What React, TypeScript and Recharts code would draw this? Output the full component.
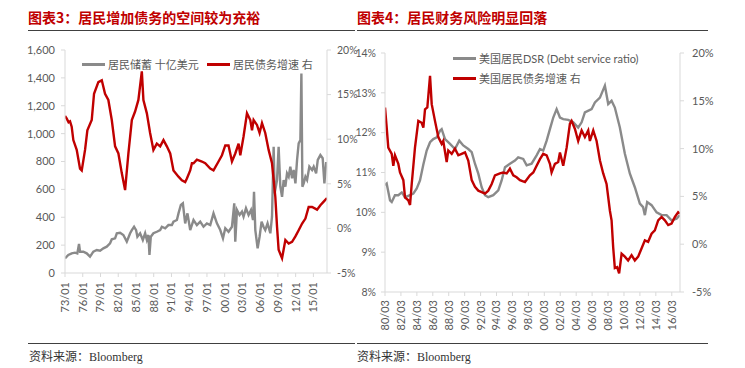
import React from 'react';
import { LineChart, Line, XAxis, YAxis } from 'recharts';

// ---------- Chart 3 data ----------
// US household savings, bn USD (left axis) [decimal year, value]
const savingsBn: [number, number][] = [
  [1973.0, 105], [1973.56, 129], [1974.13, 141], [1974.69, 146], [1975.08, 141], [1975.37, 208],
  [1975.54, 153], [1976.1, 153], [1976.67, 141], [1977.23, 117], [1977.79, 153], [1978.37, 165],
  [1978.93, 160], [1979.49, 177], [1980.06, 189], [1980.62, 213], [1980.91, 242], [1981.47, 249],
  [1981.76, 285], [1982.31, 289], [1982.87, 273], [1983.45, 225], [1984.01, 285], [1984.3, 308],
  [1984.68, 332], [1985.02, 308], [1985.24, 260], [1985.7, 285], [1986.16, 237], [1986.55, 285],
  [1986.84, 237], [1987.11, 273], [1987.28, 129], [1987.51, 260], [1987.95, 285], [1988.53, 296],
  [1989.09, 308], [1989.38, 332], [1989.94, 321], [1990.49, 344], [1991.07, 344], [1991.34, 368],
  [1991.92, 380], [1992.19, 428], [1992.59, 488], [1992.93, 500], [1993.32, 356], [1993.71, 428],
  [1994.17, 308], [1994.73, 380], [1995.3, 344], [1995.86, 368], [1996.42, 332], [1996.99, 356],
  [1997.56, 344], [1998.11, 428], [1998.69, 356], [1999.25, 308], [1999.71, 249], [2000.1, 321],
  [2000.65, 296], [2001.23, 332], [2001.62, 500], [2001.79, 225], [2002.08, 452], [2002.52, 416],
  [2002.92, 440], [2003.19, 404], [2003.6, 464], [2004.04, 416], [2004.45, 452], [2004.79, 380],
  [2004.96, 583], [2005.18, 308], [2005.57, 177], [2005.9, 260], [2006.24, 368], [2006.58, 330],
  [2006.86, 308], [2007.25, 356], [2007.72, 285], [2008.0, 404], [2008.28, 906], [2008.45, 572],
  [2008.85, 667], [2009.12, 906], [2009.41, 619], [2009.7, 547], [2009.97, 667], [2010.26, 619],
  [2010.54, 715], [2010.82, 691], [2011.1, 763], [2011.39, 679], [2011.66, 739], [2011.96, 643],
  [2012.24, 811], [2012.51, 930], [2012.8, 954], [2012.97, 1432], [2013.14, 619], [2013.36, 643],
  [2013.65, 691], [2013.93, 667], [2014.32, 763], [2014.78, 739], [2015.05, 763], [2015.46, 715],
  [2015.74, 811], [2016.18, 846], [2016.57, 823], [2016.86, 643], [2017.15, 787], [2017.3, 787],
];

// US household debt growth, % (right axis)
const debtGrowthA: [number, number][] = [
  [1973.0, 12.6], [1973.3, 12.3], [1973.6, 11.9], [1973.85, 12.0], [1974.13, 11.4], [1974.41, 9.9],
  [1974.98, 8.8], [1975.54, 6.7], [1975.83, 6.5], [1976.39, 8.8], [1976.78, 11.0], [1977.52, 12.15],
  [1977.91, 15.1], [1978.64, 16.4], [1979.22, 16.6], [1979.77, 15.1], [1980.33, 14.4], [1980.91, 12.15],
  [1981.47, 9.2], [1982.03, 8.4], [1982.6, 6.2], [1983.16, 4.3], [1983.72, 8.4], [1984.3, 12.15],
  [1984.85, 13.1], [1985.41, 14.4], [1985.99, 17.6], [1986.26, 14.4], [1986.84, 12.9], [1987.39, 10.7],
  [1987.95, 8.8], [1988.53, 9.5], [1989.09, 9.2], [1989.65, 9.9], [1990.22, 9.2], [1990.79, 8.4],
  [1991.34, 6.5], [1992.19, 5.8], [1992.76, 5.4], [1993.32, 5.2], [1993.61, 5.6], [1994.17, 6.5],
  [1994.46, 7.3], [1994.73, 7.3], [1995.3, 7.7], [1996.15, 7.5], [1996.71, 7.3], [1997.56, 6.7],
  [1998.11, 6.5], [1998.96, 7.5], [1999.54, 8.2], [2000.1, 9.3], [2000.65, 9.3], [2001.23, 7.5],
  [2001.79, 8.4], [2002.35, 9.5], [2002.64, 8.2], [2003.19, 10.3], [2003.77, 12.9], [2004.33, 12.15],
  [2004.62, 11.0], [2004.89, 12.15], [2005.46, 11.6], [2005.9, 10.7], [2006.31, 11.8], [2006.86, 10.7],
  [2007.43, 8.8], [2008.0, 7.3], [2008.56, 3.55], [2008.85, 0.2], [2009.12, -2.4], [2009.7, -3.35],
  [2010.26, -1.3], [2010.82, -1.7], [2011.39, -1.5], [2011.96, -0.9], [2012.51, -0.2], [2013.09, 0.55],
  [2013.65, 1.1], [2014.2, 2.4], [2014.78, 2.4], [2015.62, 2.1], [2016.18, 2.6], [2016.74, 3.0],
  [2017.3, 3.4],
];

// ---------- Chart 4 data ----------
// US household DSR, % (left axis)
const dsrPct: [number, number][] = [
  [1980.17, 10.68], [1980.38, 10.72], [1980.8, 10.3], [1981.01, 10.26], [1981.42, 10.43], [1981.84, 10.43],
  [1982.27, 10.5], [1982.68, 10.38], [1983.31, 10.43], [1983.72, 10.47], [1984.15, 10.6], [1984.56, 10.8],
  [1984.98, 11.2], [1985.4, 11.55], [1985.82, 11.76], [1986.23, 11.84], [1986.66, 11.88], [1987.07, 12.05],
  [1987.28, 12.09], [1987.7, 11.84], [1988.33, 11.72], [1988.95, 11.59], [1989.49, 11.8], [1989.99, 11.68],
  [1990.62, 11.59], [1991.05, 11.51], [1991.46, 11.22], [1991.88, 10.97], [1992.3, 10.63], [1992.72, 10.43],
  [1993.13, 10.38], [1993.76, 10.43], [1994.39, 10.55], [1994.81, 10.8], [1995.23, 11.13], [1995.85, 11.22],
  [1996.48, 11.3], [1996.89, 11.38], [1997.52, 11.34], [1997.95, 11.18], [1998.57, 11.22], [1999.2, 11.43],
  [1999.62, 11.59], [2000.03, 11.55], [2000.46, 11.8], [2000.87, 12.09], [2001.29, 12.38], [2001.71, 12.59],
  [2002.13, 12.38], [2002.54, 12.34], [2003.17, 12.32], [2003.8, 12.26], [2004.42, 12.13], [2004.85, 12.26],
  [2005.26, 12.51], [2006.1, 12.59], [2006.52, 12.76], [2007.15, 12.88], [2007.77, 13.18], [2008.19, 12.72],
  [2008.61, 12.8], [2009.02, 12.63], [2009.65, 12.13], [2010.28, 11.47], [2010.91, 10.97], [2011.53, 10.63],
  [2012.16, 10.22], [2012.57, 10.13], [2012.79, 9.93], [2013.08, 10.26], [2013.63, 10.18], [2014.26, 10.0],
  [2014.89, 9.93], [2015.52, 9.93], [2016.14, 9.8], [2016.77, 9.84], [2017.18, 9.93],
];

// US household debt growth, % (right axis)
const debtGrowthB: [number, number][] = [
  [1980.17, 14.3], [1980.38, 12.2], [1980.58, 10.1], [1981.01, 9.45], [1981.21, 8.2], [1981.42, 9.3],
  [1981.84, 8.4], [1982.05, 7.5], [1982.47, 6.7], [1982.68, 4.9], [1983.09, 4.6], [1983.31, 4.1],
  [1983.52, 6.3], [1983.93, 10.1], [1984.35, 12.9], [1984.77, 12.7], [1984.98, 12.2], [1985.19, 14.1],
  [1985.48, 14.3], [1985.82, 17.6], [1986.03, 14.65], [1986.44, 12.9], [1986.86, 11.2], [1987.28, 10.5],
  [1987.48, 10.8], [1987.91, 8.6], [1988.11, 9.8], [1988.54, 9.45], [1988.95, 10.0], [1989.37, 9.3],
  [1989.79, 9.45], [1990.21, 9.6], [1990.62, 8.75], [1991.05, 6.7], [1991.46, 6.0], [1991.88, 5.6],
  [1992.3, 5.45], [1992.72, 5.3], [1993.13, 5.6], [1993.56, 6.3], [1993.97, 7.2], [1994.6, 7.4],
  [1995.01, 7.5], [1995.44, 7.4], [1995.85, 7.9], [1996.27, 7.2], [1996.69, 7.0], [1997.11, 6.7],
  [1997.74, 6.5], [1998.36, 7.2], [1998.78, 7.5], [1999.2, 8.2], [1999.62, 8.9], [2000.03, 9.45],
  [2000.46, 9.3], [2000.87, 8.4], [2001.08, 7.5], [2001.5, 8.4], [2001.91, 8.6], [2002.13, 9.6],
  [2002.54, 8.2], [2002.97, 10.1], [2003.38, 12.6], [2003.59, 12.9], [2004.01, 12.05], [2004.42, 10.8],
  [2004.85, 11.9], [2005.26, 11.2], [2005.68, 11.9], [2005.89, 10.8], [2006.31, 11.9], [2006.73, 10.8],
  [2007.15, 8.75], [2007.56, 7.4], [2007.98, 6.3], [2008.4, 3.5], [2008.61, 2.5], [2008.81, -0.3],
  [2009.02, -2.5], [2009.31, -2.4], [2009.56, -3.05], [2009.87, -1.0], [2010.28, -1.3], [2010.69, -1.7],
  [2011.12, -1.15], [2011.53, -1.7], [2011.95, -1.3], [2012.37, -0.45], [2012.79, 0.4], [2013.2, 0.25],
  [2013.63, 1.1], [2014.04, 1.45], [2014.46, 2.5], [2014.89, 2.85], [2015.3, 2.5], [2015.72, 2.0],
  [2016.14, 2.15], [2016.56, 2.85], [2016.97, 3.35], [2017.18, 3.2],
];

// ---------- ticks / labels ----------
const leftTickYears = [1973, 1976, 1979, 1982, 1985, 1988, 1991, 1994, 1997, 2000, 2003, 2006, 2009, 2012, 2015];
const rightTickYears = [1980, 1982, 1984, 1986, 1988, 1990, 1992, 1994, 1996, 1998, 2000, 2002, 2004, 2006, 2008, 2010, 2012, 2014, 2016];
const savingsTicks = [0, 200, 400, 600, 800, 1000, 1200, 1400, 1600];
const growthTicks = [-5, 0, 5, 10, 15, 20];
const dsrTicks = [8, 9, 10, 11, 12, 13, 14];

const titleA = '图表3：居民增加债务的空间较为充裕';
const titleB = '图表4：居民财务风险明显回落';
const legendA1 = '居民储蓄 十亿美元';
const legendA2 = '居民债务增速 右';
const legendB1 = '美国居民DSR (Debt service ratio)';
const legendB2 = '美国居民债务增速 右';
const sourceText = '资料来源：Bloomberg';

const RED = '#c00000';
const GREY = '#8a8a8a';
const AXIS = '#d9d9d9';
const TXT = '#595959';
const NUMFONT = 'Lato, "Noto Sans CJK SC", sans-serif';

const toRows = (arr: [number, number][]) => arr.map(([t, v]) => ({ t, v }));
const pad2 = (n: number) => String(n % 100).padStart(2, '0');

const makeRotTick = (fmt: (v: number) => string) => (props: any) => {
  const { x, y, payload } = props;
  return (
    <text
      x={x}
      y={y}
      transform={`rotate(-90 ${x} ${y})`}
      textAnchor="end"
      dy="0.36em"
      fill={TXT}
      fontSize={11}
      fontFamily={NUMFONT}
    >
      {fmt(payload.value)}
    </text>
  );
};

const tickStyle = { fill: TXT, fontSize: 11, fontFamily: NUMFONT };
const tickStyleSmall = { fill: TXT, fontSize: 10.5, fontFamily: NUMFONT };

const LegendItem = ({ x, y, color, text }: { x: number; y: number; color: string; text: string }) => (
  <div style={{ position: 'absolute', left: x, top: y - 8, height: 16, display: 'flex', alignItems: 'center', whiteSpace: 'nowrap' }}>
    <div style={{ width: 23, height: 3, background: color, marginRight: 3 }} />
    <span style={{ fontSize: 11, color: TXT, fontFamily: NUMFONT }}>{text}</span>
  </div>
);

export default function App() {
  const savRows = toRows(savingsBn);
  const debtARows = toRows(debtGrowthA);
  const dsrRows = toRows(dsrPct);
  const debtBRows = toRows(debtGrowthB);
  const rightTicks = rightTickYears.map((y) => y + 2 / 12);

  return (
    <div style={{ position: 'absolute', left: 0, top: 0, width: 745, height: 368, background: '#fff', overflow: 'hidden' }}>
      {/* Titles */}
      <div style={{ position: 'absolute', left: 28, top: 7, fontSize: 14, fontWeight: 700, color: RED, fontFamily: '"Noto Sans CJK SC", sans-serif', whiteSpace: 'nowrap' }}>{titleA}</div>
      <div style={{ position: 'absolute', left: 357, top: 7, fontSize: 14, fontWeight: 700, color: RED, fontFamily: '"Noto Sans CJK SC", sans-serif', whiteSpace: 'nowrap' }}>{titleB}</div>
      <div style={{ position: 'absolute', left: 28, top: 30, width: 327, height: 1, background: '#404040' }} />
      <div style={{ position: 'absolute', left: 357, top: 30, width: 351, height: 1, background: '#404040' }} />

      {/* Chart 3 */}
      <div style={{ position: 'absolute', left: 0, top: 0 }}>
        <LineChart width={370} height={330} margin={{ top: 50, right: 3, bottom: 12, left: 0 }}>
          <XAxis
            type="number"
            dataKey="t"
            domain={[1973, 2017.3]}
            ticks={leftTickYears}
            interval={0}
            allowDataOverflow
            height={45}
            stroke={AXIS}
            tickSize={4}
            tickMargin={5}
            tick={makeRotTick((v) => `${pad2(Math.round(v))}/01`)}
          />
          <YAxis
            yAxisId="l"
            domain={[0, 1600]}
            ticks={savingsTicks}
            interval={0}
            width={65}
            stroke={AXIS}
            tickSize={4}
            tickMargin={6}
            tick={tickStyle}
            tickFormatter={(v: number) => v.toLocaleString('en-US')}
          />
          <YAxis
            yAxisId="r"
            orientation="right"
            domain={[-5, 20]}
            ticks={growthTicks}
            interval={0}
            width={40}
            stroke={AXIS}
            tickSize={4}
            tickMargin={6}
            tick={tickStyleSmall}
            tickFormatter={(v: number) => `${v}%`}
          />
          <Line yAxisId="l" data={savRows} dataKey="v" type="linear" stroke={GREY} strokeWidth={2.4} dot={false} isAnimationActive={false} />
          <Line yAxisId="r" data={debtARows} dataKey="v" type="linear" stroke={RED} strokeWidth={2.4} dot={false} isAnimationActive={false} />
        </LineChart>
      </div>

      {/* Chart 4 */}
      <div style={{ position: 'absolute', left: 340, top: 0 }}>
        <LineChart width={405} height={340} margin={{ top: 53, right: 20, bottom: 8, left: 15 }}>
          <XAxis
            type="number"
            dataKey="t"
            domain={[1980 + 2 / 12, 2017.2]}
            ticks={rightTicks}
            interval={0}
            allowDataOverflow
            height={40}
            stroke={AXIS}
            tickSize={4}
            tickMargin={4}
            tick={makeRotTick((v) => `${pad2(Math.round(v - 2 / 12))}/03`)}
          />
          <YAxis
            yAxisId="l"
            domain={[8, 14]}
            ticks={dsrTicks}
            interval={0}
            width={30}
            stroke={AXIS}
            tickSize={4}
            tickMargin={5}
            tick={tickStyleSmall}
            tickFormatter={(v: number) => `${v}%`}
          />
          <YAxis
            yAxisId="r"
            orientation="right"
            domain={[-5, 20]}
            ticks={growthTicks}
            interval={0}
            width={45}
            stroke={AXIS}
            tickSize={4}
            tickMargin={8}
            tick={tickStyle}
            tickFormatter={(v: number) => `${v}%`}
          />
          <Line yAxisId="l" data={dsrRows} dataKey="v" type="linear" stroke={GREY} strokeWidth={2.4} dot={false} isAnimationActive={false} />
          <Line yAxisId="r" data={debtBRows} dataKey="v" type="linear" stroke={RED} strokeWidth={2.4} dot={false} isAnimationActive={false} />
        </LineChart>
      </div>

      {/* Legends */}
      <LegendItem x={82} y={64} color={GREY} text={legendA1} />
      <LegendItem x={207} y={64} color={RED} text={legendA2} />
      <LegendItem x={453} y={58} color={GREY} text={legendB1} />
      <LegendItem x={453} y={78} color={RED} text={legendB2} />

      {/* Footer */}
      <div style={{ position: 'absolute', left: 28, top: 343, width: 327, height: 1, background: '#404040' }} />
      <div style={{ position: 'absolute', left: 357, top: 343, width: 351, height: 1, background: '#404040' }} />
      <div style={{ position: 'absolute', left: 29, top: 347, fontSize: 12, color: '#333', fontFamily: '"Liberation Serif", "Noto Sans CJK SC", serif', whiteSpace: 'nowrap' }}>{sourceText}</div>
      <div style={{ position: 'absolute', left: 357, top: 347, fontSize: 12, color: '#333', fontFamily: '"Liberation Serif", "Noto Sans CJK SC", serif', whiteSpace: 'nowrap' }}>{sourceText}</div>
    </div>
  );
}
